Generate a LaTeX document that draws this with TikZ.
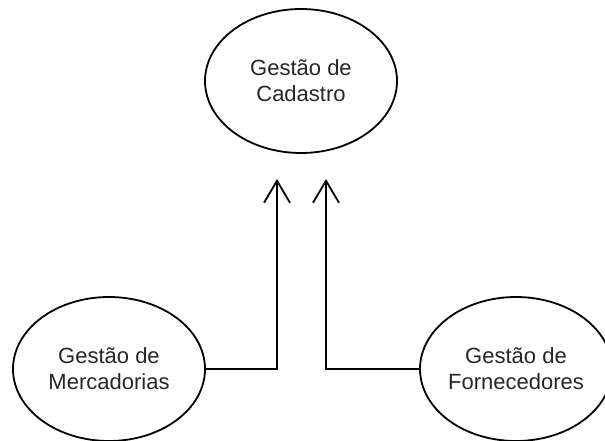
\documentclass[tikz,border=0pt]{standalone}
\usepackage{fontspec}
\setmainfont{Liberation Sans}
\usetikzlibrary{arrows.meta,shapes.geometric,positioning}

\begin{document}
\begin{tikzpicture}[x=1pt, y=-1pt,
    modulo/.style={draw, line width=1.8pt, ellipse, inner sep=0pt,
        minimum width=192pt, minimum height=144pt, align=center,
        font=\fontsize{22}{26}\selectfont, text=black!85},
    fluxo/.style={line width=1.8pt, -{Straight Barb[length=22pt, width=26pt, line width=1.8pt]}}]
    \useasboundingbox (0,0) rectangle (605,441);
    % Modulos
    \node[modulo] (cadastro) at (301,81) {Gestão de\\Cadastro};
    \node[modulo] (mercadorias) at (109,369) {Gestão de\\Mercadorias};
    \node[modulo] (fornecedores) at (516,369) {Gestão de\\Fornecedores};
    % Pontas das setas
    \coordinate (pontaM) at (277,179);
    \coordinate (pontaF) at (326,179);
    % Ligacoes
    \draw[fluxo] (mercadorias.east) -| (pontaM);
    \draw[fluxo] (fornecedores.west) -| (pontaF);
\end{tikzpicture}
\end{document}
